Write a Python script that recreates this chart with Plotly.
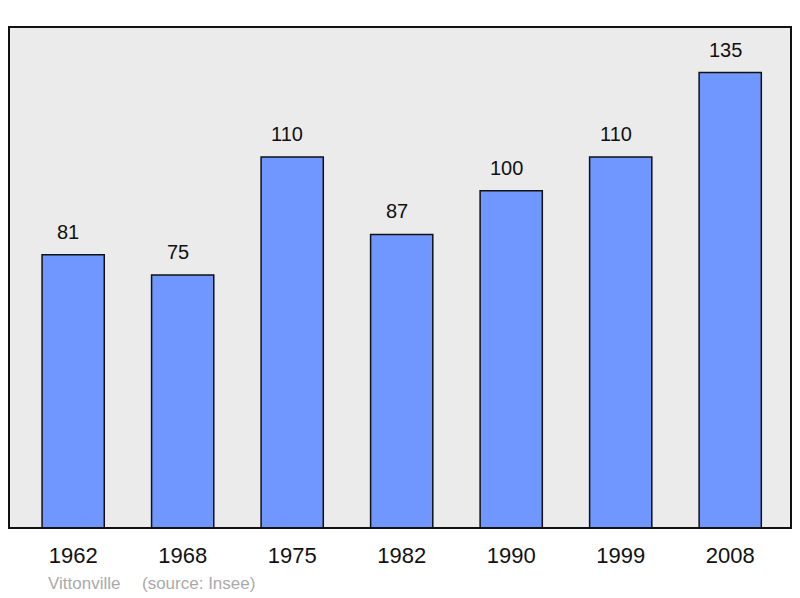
import plotly.graph_objects as go

years = ["1962", "1968", "1975", "1982", "1990", "1999", "2008"]
population = [81, 75, 110, 87, 100, 110, 135]
town = "Vittonville"
source = "(source: Insee)"

FONT = "Liberation Sans, Arial, sans-serif"
PLOT_H = 501.0
PLOT_W = 782.0

fig = go.Figure()
fig.add_trace(go.Bar(
    x=list(range(len(years))), y=population, width=0.568,
    marker=dict(color="#7097ff", line=dict(color="#111111", width=1.5)),
    hoverinfo="skip",
))

for i, v in enumerate(population):
    fig.add_annotation(x=i, y=v, text=str(v), showarrow=False,
                       xref="x", yref="y", yanchor="bottom", yshift=10, xshift=-5,
                       font=dict(family=FONT, size=20, color="#111111"))

cap_y = -55.5 / PLOT_H
fig.add_annotation(x=(46 - 9) / PLOT_W, y=cap_y, xref="paper", yref="paper", text=town,
                   showarrow=False, xanchor="left", yanchor="middle",
                   font=dict(family=FONT, size=17, color="#aaaaaa"))
fig.add_annotation(x=(140 - 9) / PLOT_W, y=cap_y, xref="paper", yref="paper", text=source,
                   showarrow=False, xanchor="left", yanchor="middle",
                   font=dict(family=FONT, size=17, color="#aaaaaa"))

fig.add_shape(type="rect", xref="paper", yref="paper", x0=0, x1=1, y0=0, y1=1,
              line=dict(color="#111111", width=2), layer="above")

fig.update_layout(
    width=800, height=598,
    margin=dict(l=1, r=17, t=19, b=78),
    paper_bgcolor="white", plot_bgcolor="#ebebeb",
    showlegend=False,
    xaxis=dict(range=[-0.586, 6.555], showgrid=False, zeroline=False,
               showline=False, ticks="", ticklabelstandoff=12,
               tickmode="array", tickvals=list(range(len(years))), ticktext=years,
               tickfont=dict(family=FONT, size=22, color="#111111")),
    yaxis=dict(range=[0, 148.5], showgrid=False, zeroline=False, showticklabels=False,
               showline=False, ticks=""),
)

fig.write_html("out.html")
